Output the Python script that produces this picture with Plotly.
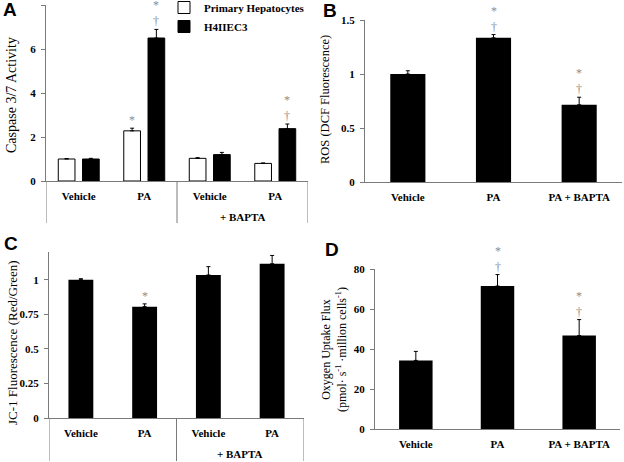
import plotly.graph_objects as go

W, H = 624, 462

# ---------------- data ----------------
# Panel A: Caspase 3/7 activity
a_labels = ["Vehicle", "PA", "Vehicle", "PA"]
a_group2 = "+ BAPTA"
a_primary = [1.0, 2.28, 1.03, 0.80]
a_primary_err = [0.02, 0.12, 0.03, 0.02]
a_primary_marks = ["", "*", "", ""]
a_h4 = [1.0, 6.5, 1.2, 2.38]
a_h4_err = [0.03, 0.39, 0.10, 0.21]
a_h4_marks = ["", "*<br>†", "", "*<br>†"]
a_yticks = [0, 2, 4, 6, 8]

# Panel B: ROS
b_labels = ["Vehicle", "PA", "PA + BAPTA"]
b_vals = [1.0, 1.335, 0.715]
b_err = [0.03, 0.03, 0.07]
b_marks = ["", "*<br>†", "*<br>†"]
b_yticks = [0, 0.5, 1, 1.5]
b_yticktext = ["0", "0.5", "1", "1.5"]

# Panel C: JC-1
c_labels = ["Vehicle", "PA", "Vehicle", "PA"]
c_vals = [1.0, 0.805, 1.034, 1.115]
c_err = [0.007, 0.02, 0.06, 0.06]
c_marks = ["", "*", "", ""]
c_yticks = [0, 0.25, 0.5, 0.75, 1]
c_yticktext = ["0", "0.25", "0.5", "0.75", "1"]

# Panel D: Oxygen uptake
d_labels = ["Vehicle", "PA", "PA + BAPTA"]
d_vals = [34.3, 71.5, 46.7]
d_err = [4.5, 5.7, 8.0]
d_marks = ["", "*<br>†", "*<br>†"]
d_yticks = [0, 20, 40, 60, 80]

# ---------------- style ----------------
SERIF = "Liberation Serif"
SANS = "Liberation Sans"
AXC = "#7a7a7a"
MARKC = "#8c8c8c"


def px_x(p):
    return p / W


def px_y(p):
    return (H - p) / H


# pixel boxes of each plot area: (left, right, top, bottom)
boxes = {
    "A": (46, 308, 5, 181),
    "B": (365, 622, 20, 182),
    "C": (49, 304, 252, 418),
    "D": (375, 620, 269, 429),
}

fig = go.Figure()

errstyle = dict(type="data", symmetric=False, color="black", thickness=1, width=2)

# Panel A
xa = list(range(len(a_labels)))
fig.add_trace(go.Bar(
    x=xa, y=a_primary, name="Primary Hepatocytes",
    marker=dict(color="white", line=dict(color="black", width=1)),
    error_y=dict(array=a_primary_err, arrayminus=[0] * len(xa), **errstyle),
    xaxis="x", yaxis="y", showlegend=True,
))
fig.add_trace(go.Bar(
    x=xa, y=a_h4, name="H4IIEC3",
    marker=dict(color="black", line=dict(color="black", width=1)),
    error_y=dict(array=a_h4_err, arrayminus=[0] * len(xa), **errstyle),
    xaxis="x", yaxis="y", showlegend=True,
))

# Panel B
xb = list(range(len(b_labels)))
fig.add_trace(go.Bar(
    x=xb, y=b_vals, width=0.41, marker=dict(color="black", line=dict(width=0)),
    error_y=dict(array=b_err, arrayminus=[0] * len(xb), **errstyle),
    xaxis="x2", yaxis="y2", showlegend=False,
))

# Panel C
xc = list(range(len(c_labels)))
fig.add_trace(go.Bar(
    x=xc, y=c_vals, width=0.39, marker=dict(color="black", line=dict(width=0)),
    error_y=dict(array=c_err, arrayminus=[0] * len(xc), **errstyle),
    xaxis="x3", yaxis="y3", showlegend=False,
))

# Panel D
xd = list(range(len(d_labels)))
fig.add_trace(go.Bar(
    x=xd, y=d_vals, width=0.41, marker=dict(color="black", line=dict(width=0)),
    error_y=dict(array=d_err, arrayminus=[0] * len(xd), **errstyle),
    xaxis="x4", yaxis="y4", showlegend=False,
))

tickfont = dict(family=SERIF, size=11, color="black", weight="bold")


def xaxis_cfg(key, labels):
    l, r, t, b = boxes[key]
    return dict(
        domain=[px_x(l), px_x(r)], range=[-0.5, len(labels) - 0.5],
        tickmode="array", tickvals=list(range(len(labels))), ticktext=labels,
        ticks="", showline=True, linecolor=AXC, linewidth=1,
        showgrid=False, zeroline=False, tickfont=tickfont,
        ticklabelstandoff=5, fixedrange=True, automargin=False,
    )


def yaxis_cfg(key, rng, tickvals, ticktext=None):
    l, r, t, b = boxes[key]
    return dict(
        domain=[px_y(b), px_y(t)], range=rng,
        tickmode="array", tickvals=tickvals,
        ticktext=ticktext if ticktext else [str(v) for v in tickvals],
        ticks="outside", ticklen=4, tickcolor=AXC, tickwidth=1,
        showline=True, linecolor=AXC, linewidth=1,
        showgrid=False, zeroline=False, tickfont=tickfont,
        ticklabelstandoff=3, fixedrange=True, automargin=False,
    )


fig.update_layout(
    width=W, height=H, autosize=False,
    margin=dict(l=0, r=0, t=0, b=0, pad=0, autoexpand=False),
    paper_bgcolor="white", plot_bgcolor="white",
    barmode="group", bargap=0.26, bargroupgap=0.311,
    xaxis=dict(anchor="y", **xaxis_cfg("A", a_labels)),
    yaxis=dict(anchor="x", **yaxis_cfg("A", [0, 8], a_yticks)),
    xaxis2=dict(anchor="y2", **xaxis_cfg("B", b_labels)),
    yaxis2=dict(anchor="x2", **yaxis_cfg("B", [0, 1.5], b_yticks, b_yticktext)),
    xaxis3=dict(anchor="y3", **xaxis_cfg("C", c_labels)),
    yaxis3=dict(anchor="x3", **yaxis_cfg("C", [0, 1.2], c_yticks, c_yticktext)),
    xaxis4=dict(anchor="y4", **xaxis_cfg("D", d_labels)),
    yaxis4=dict(anchor="x4", **yaxis_cfg("D", [0, 80], d_yticks)),
    legend=dict(
        x=px_x(164), y=px_y(-7), xanchor="left", yanchor="top",
        font=dict(family=SERIF, size=11, color="black", weight="bold"),
        bgcolor="rgba(0,0,0,0)", tracegroupgap=0, itemwidth=30,
        traceorder="normal",
    ),
    font=dict(family=SERIF, color="black"),
)

ann = []
shapes = []


def add_marks(xref, yref, xs, vals, errs, marks, xshift=0):
    for x, v, e, m in zip(xs, vals, errs, marks):
        if m:
            ann.append(dict(
                x=x, y=v + e, xref=xref, yref=yref, text=m, showarrow=False,
                xanchor="center", yanchor="bottom", xshift=xshift, yshift=-1,
                font=dict(family=SERIF, size=12, color=MARKC),
            ))


add_marks("x", "y", xa, a_primary, a_primary_err, a_primary_marks, xshift=-12)
add_marks("x", "y", xa, a_h4, a_h4_err, a_h4_marks, xshift=12)
add_marks("x2", "y2", xb, b_vals, b_err, b_marks)
add_marks("x3", "y3", xc, c_vals, c_err, c_marks)
add_marks("x4", "y4", xd, d_vals, d_err, d_marks)


def separators(key, xref, n, depth_px, group_label_px):
    l, r, t, b = boxes[key]
    for xv in (-0.5, (n - 1) / 2, n - 0.5):
        shapes.append(dict(
            type="line", xref=xref, yref="paper", x0=xv, x1=xv,
            y0=px_y(b), y1=px_y(b + depth_px),
            line=dict(color=AXC, width=1),
        ))
    ann.append(dict(
        x=(n - 2 + n - 1) / 2, y=px_y(b + group_label_px), xref=xref, yref="paper",
        text="<b>" + a_group2 + "</b>", showarrow=False,
        xanchor="center", yanchor="middle",
        font=dict(family=SERIF, size=11, color="black"),
    ))


separators("A", "x", len(a_labels), 42, 36)
separators("C", "x3", len(c_labels), 43, 36)

# axis titles
def ytitle(text, xpx, ycpx, size):
    ann.append(dict(
        x=px_x(xpx), y=px_y(ycpx), xref="paper", yref="paper", text=text,
        textangle=-90, showarrow=False, xanchor="center", yanchor="middle",
        font=dict(family=SERIF, size=size, color="black"),
    ))


ytitle("Caspase 3/7 Activity", 12, 95, 14)
ytitle("ROS (DCF Fluorescence)", 325, 100, 12.5)
ytitle("JC-1 Fluorescence (Red/Green)", 12, 343, 13)
ytitle("Oxygen Uptake Flux<br>(pmol· s<sup>-1</sup> ·million cells<sup>-1</sup>)", 334, 350, 12)

# panel letters
for letter, xpx, ypx in [("A", 1, -3), ("B", 321, -2), ("C", 2, 231), ("D", 323, 237)]:
    ann.append(dict(
        x=px_x(xpx), y=px_y(ypx), xref="paper", yref="paper", text="<b>" + letter + "</b>",
        showarrow=False, xanchor="left", yanchor="top",
        font=dict(family=SANS, size=19, color="black"),
    ))

fig.update_layout(annotations=ann, shapes=shapes)

fig.write_html("out.html", config={"displayModeBar": False},
               post_script="document.body.style.margin='0';")
